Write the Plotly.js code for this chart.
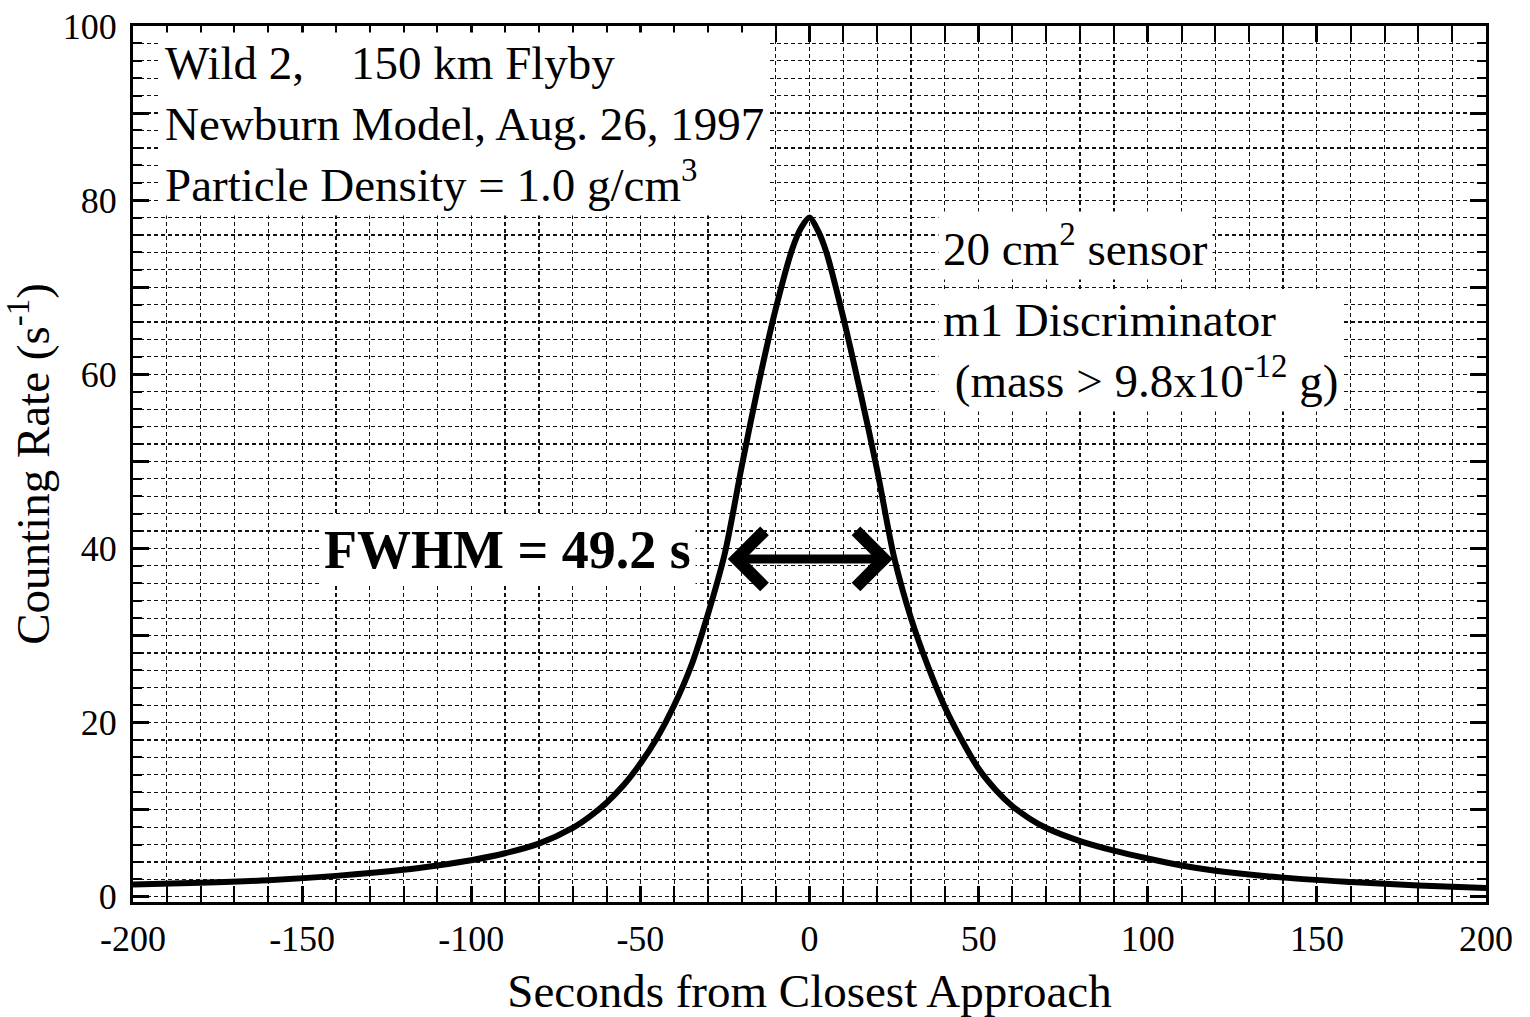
<!DOCTYPE html>
<html>
<head>
<meta charset="utf-8">
<script src="https://cdn.plot.ly/plotly-3.0.1.min.js"></script>
<style>
  html, body { margin: 0; padding: 0; background: #fff; }
  #chart { width: 1530px; height: 1017px; }
</style>
</head>
<body>
<div id="chart"></div>
<script>
// Seconds from closest approach
const seconds = [-200, -180, -160, -140, -120, -110, -100, -90, -80, -70, -65, -60, -55, -50, -45, -40, -35, -30, -25, -20, -15, -10, -5, -2.5, 0,
                 2.5, 5, 10, 15, 20, 25, 30, 35, 40, 45, 50, 55, 60, 65, 70, 80, 90, 100, 110, 120, 140, 160, 180, 200];
// Counting rate (s^-1)
const rate = [1.4, 1.6, 1.9, 2.4, 3.1, 3.6, 4.2, 5.0, 6.1, 7.9, 9.2, 10.8, 12.8, 15.3, 18.3, 22.0, 26.5, 32.5, 39.5, 49.5, 59.0, 67.5, 74.5, 76.8, 78.0,
              76.5, 74.0, 66.5, 58.0, 49.0, 39.0, 32.0, 26.5, 21.8, 18.0, 14.7, 12.3, 10.4, 9.0, 7.9, 6.4, 5.3, 4.4, 3.6, 3.0, 2.2, 1.7, 1.3, 1.0];

// FWHM marker
const fwhmEnds = [-24.6, 24.6];
const halfMax = 38.8;
const fwhmLabel = "FWHM = 49.2 s";

// Tick labels
const yLabelVals = [0, 20, 40, 60, 80, 100];
const yLabelText = ["0", "20", "40", "60", "80", "100"];
const yMidTickVals = [10, 30, 50, 70, 90];
const xTickVals = [-200, -150, -100, -50, 0, 50, 100, 150, 200];
const xTickText = ["-200", "-150", "-100", "-50", "0", "50", "100", "150", "200"];

const infoLines1 = ["Wild 2,    150 km Flyby", "Newburn Model, Aug. 26, 1997", "Particle Density = 1.0 g/cm<sup>3</sup>"];
const infoLines2a = ["20 cm<sup>2</sup> sensor"];
const infoLines2b = ["m1 Discriminator", " (mass &gt; 9.8x10<sup>-12</sup> g)"];

const serif = "Liberation Serif, Times New Roman, serif";
const gridDash = "4px,3px";

const trace = {
  x: seconds, y: rate, type: "scatter", mode: "lines",
  line: { color: "#000", width: 6, shape: "spline", smoothing: 0.8 },
  hoverinfo: "skip", showlegend: false
};
const tickHolder = { x: [], y: [], type: "scatter", mode: "lines", yaxis: "y2", hoverinfo: "skip", showlegend: false };

const axisCommon = {
  showline: true, linecolor: "#000", linewidth: 3, mirror: "allticks",
  ticks: "inside", tickcolor: "#000", tickwidth: 3, ticklen: 16,
  showgrid: true, gridcolor: "#111", gridwidth: 1.2, griddash: gridDash,
  zeroline: false,
  tickfont: { family: serif, size: 36, color: "#000" },
  minor: { ticks: "inside", ticklen: 9, tickwidth: 2, tickcolor: "#000",
           showgrid: true, gridcolor: "#111", gridwidth: 1.2, griddash: gridDash }
};

const layout = {
  width: 1530, height: 1017,
  margin: { l: 133, r: 44, t: 26, b: 115 },
  paper_bgcolor: "#fff", plot_bgcolor: "#fff",
  font: { family: serif, color: "#000" },
  xaxis: Object.assign({}, axisCommon, {
    range: [-200, 200], tickmode: "array", tickvals: xTickVals, ticktext: xTickText,
    minor: Object.assign({}, axisCommon.minor, { dtick: 10, tick0: 0 }),
    ticklabelstandoff: 3,
    title: { text: "Seconds from Closest Approach", font: { family: serif, size: 47, color: "#000" }, standoff: 18 }
  }),
  yaxis: Object.assign({}, axisCommon, {
    range: [-0.6, 100], tickmode: "array", tickvals: yLabelVals, ticktext: yLabelText,
    minor: Object.assign({}, axisCommon.minor, { dtick: 2, tick0: 0 }),
    ticklabelstandoff: 6,
    title: { text: "Counting Rate (s<sup>-1</sup>)", font: { family: serif, size: 47, color: "#000" }, standoff: 6 }
  }),
  yaxis2: {
    overlaying: "y", side: "left", range: [-0.6, 100],
    tickmode: "array", tickvals: yMidTickVals, showticklabels: false,
    ticks: "inside", ticklen: 16, tickwidth: 3, tickcolor: "#000",
    showline: false, mirror: "allticks", showgrid: false, zeroline: false
  },
  annotations: [
    { x: -192, y: 99.3, xref: "x", yref: "y", xanchor: "left", yanchor: "top", align: "left",
      text: infoLines1.join("<br>"), showarrow: false, bgcolor: "#fff", borderpad: 4,
      font: { family: serif, size: 47, color: "#000" } },
    { x: 38, y: 78.7, xref: "x", yref: "y", xanchor: "left", yanchor: "top", align: "left",
      text: infoLines2a.join("<br>"), showarrow: false, bgcolor: "#fff", borderpad: 4,
      font: { family: serif, size: 47, color: "#000" } },
    { x: 38, y: 69.8, xref: "x", yref: "y", xanchor: "left", yanchor: "top", align: "left",
      text: infoLines2b.join("<br>"), showarrow: false, bgcolor: "#fff", borderpad: 4,
      font: { family: serif, size: 47, color: "#000" } },
    { x: -33.5, y: 39.8, xref: "x", yref: "y", xanchor: "right", yanchor: "middle",
      text: "<b>" + fwhmLabel + "</b>", showarrow: false, bgcolor: "#fff", borderpad: 4,
      font: { family: serif, size: 54, color: "#000" } },
    { x: fwhmEnds[1], y: halfMax, ax: fwhmEnds[0], ay: halfMax, xref: "x", yref: "y", axref: "x", ayref: "y",
      text: "", showarrow: true, arrowside: "end+start", arrowhead: 4, arrowsize: 1.2, arrowwidth: 9,
      arrowcolor: "#000", standoff: 0, startstandoff: 0 }
  ]
};

Plotly.newPlot("chart", [trace, tickHolder], layout, { staticPlot: true, displayModeBar: false });
</script>
</body>
</html>
